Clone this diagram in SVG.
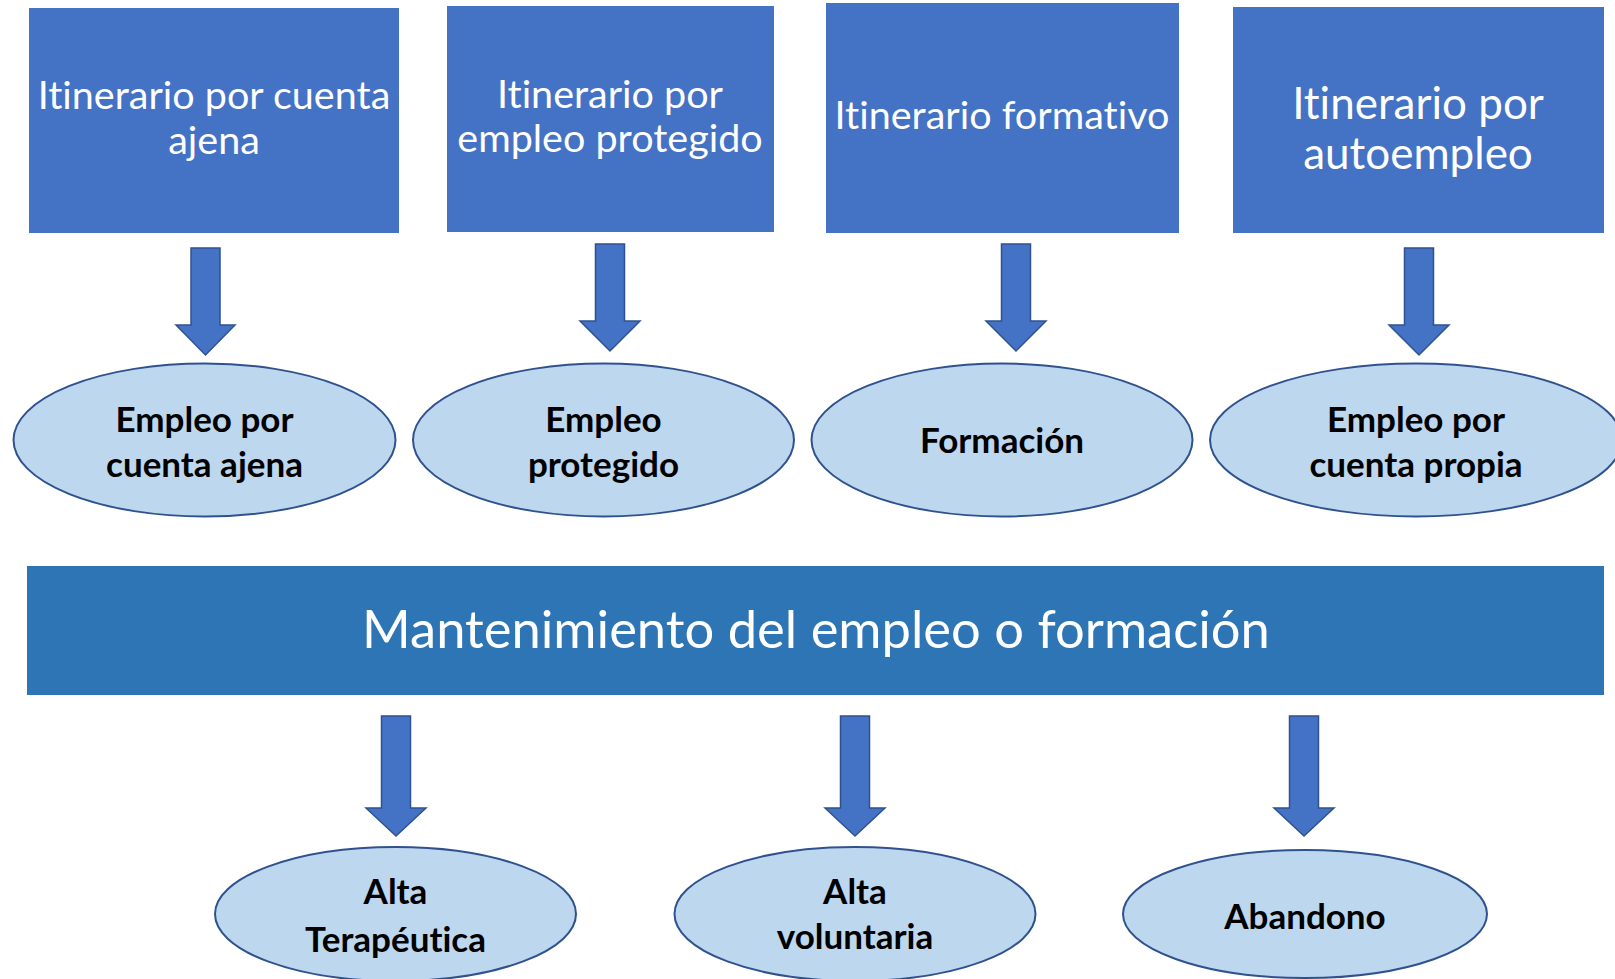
<svg xmlns="http://www.w3.org/2000/svg" width="1615" height="979" viewBox="0 0 1615 979">
<style>
.box{fill:#4472C4;}
.boxt{fill:#FFFFFF;font-family:Lato,"Liberation Sans",sans-serif;font-size:39.5px;text-anchor:middle;font-variant-ligatures:none;}
.ell{fill:#BDD7EE;stroke:#2F528F;stroke-width:2;}
.ellt{fill:#000000;font-family:Lato,"Liberation Sans",sans-serif;font-weight:bold;font-size:35px;text-anchor:middle;font-variant-ligatures:none;}
.arrow{fill:#4472C4;stroke:#2F528F;stroke-width:1.5;stroke-linejoin:miter;}
.banner{fill:#2E75B6;}
.bannert{fill:#FFFFFF;font-family:Lato,"Liberation Sans",sans-serif;font-size:52.5px;text-anchor:middle;font-variant-ligatures:none;}
</style>
<rect width="1615" height="979" fill="#FFFFFF"/>
<g id="box1"><rect class="box" x="29" y="8" width="370" height="225"/><text class="boxt" x="214" y="109">Itinerario por cuenta</text><text class="boxt" x="214" y="154">ajena</text></g>
<g id="box2"><rect class="box" x="447" y="6" width="327" height="226"/><text class="boxt" x="610" y="108">Itinerario por</text><text class="boxt" x="610" y="152">empleo protegido</text></g>
<g id="box3"><rect class="box" x="826" y="3" width="353" height="230"/><text class="boxt" x="1002" y="129">Itinerario formativo</text></g>
<g id="box4"><rect class="box" x="1233" y="7" width="371" height="226"/><text class="boxt" x="1418" y="119" style="font-size:44px">Itinerario por</text><text class="boxt" x="1418" y="169" style="font-size:44px">autoempleo</text></g>
<g id="connectors">
<polygon class="arrow" points="191,248 220,248 220,325 235,325 205.5,355 176,325 191,325"/>
<polygon class="arrow" points="595.5,244 624.5,244 624.5,321 640,321 610,351 580,321 595.5,321"/>
<polygon class="arrow" points="1001.5,244 1030.5,244 1030.5,321 1046,321 1016,351 986,321 1001.5,321"/>
<polygon class="arrow" points="1404.5,248 1433.5,248 1433.5,325 1449,325 1419,355 1389,325 1404.5,325"/>
<polygon class="arrow" points="381.5,716 410.5,716 410.5,808 426,808 396,836 366,808 381.5,808"/>
<polygon class="arrow" points="840.5,716 869.5,716 869.5,808 885,808 855,836 825,808 840.5,808"/>
<polygon class="arrow" points="1289.5,716 1318.5,716 1318.5,808 1334,808 1304,836 1274,808 1289.5,808"/>
</g>
<g id="ell1"><ellipse class="ell" cx="204.5" cy="440" rx="191" ry="76.5"/><text class="ellt" x="204.5" y="432">Empleo por</text><text class="ellt" x="204.5" y="477">cuenta ajena</text></g>
<g id="ell2"><ellipse class="ell" cx="603.5" cy="440" rx="190.5" ry="76.5"/><text class="ellt" x="603.5" y="432">Empleo</text><text class="ellt" x="603.5" y="477">protegido</text></g>
<g id="ell3"><ellipse class="ell" cx="1002" cy="440" rx="190.5" ry="76.5"/><text class="ellt" x="1002" y="453">Formación</text></g>
<g id="ell4"><ellipse class="ell" cx="1416" cy="440" rx="206" ry="76.5"/><text class="ellt" x="1416" y="432">Empleo por</text><text class="ellt" x="1416" y="477">cuenta propia</text></g>
<g id="banner"><rect class="banner" x="27" y="566" width="1577" height="129"/><text class="bannert" x="816" y="648">Mantenimiento del empleo o formación</text></g>
<g id="ell5"><ellipse class="ell" cx="395.5" cy="914" rx="180.5" ry="67"/><text class="ellt" x="395.5" y="904">Alta</text><text class="ellt" x="395.5" y="952">Terapéutica</text></g>
<g id="ell6"><ellipse class="ell" cx="855" cy="914" rx="180.5" ry="67"/><text class="ellt" x="855" y="904">Alta</text><text class="ellt" x="855" y="949">voluntaria</text></g>
<g id="ell7"><ellipse class="ell" cx="1305" cy="914" rx="182" ry="64"/><text class="ellt" x="1305" y="929">Abandono</text></g>
</svg>
